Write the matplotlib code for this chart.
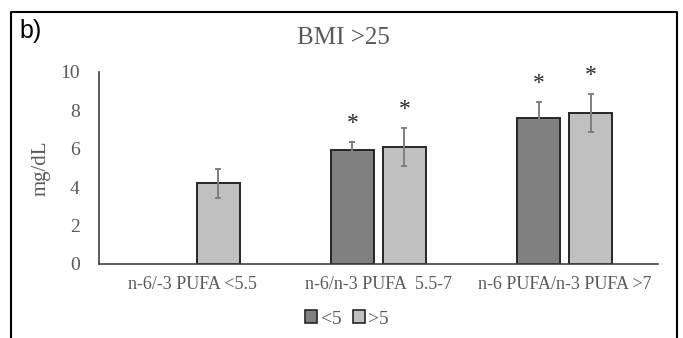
import matplotlib
matplotlib.use("Agg")
import matplotlib.pyplot as plt
import numpy as np
from matplotlib.lines import Line2D
from matplotlib.patches import Patch

categories = ["n-6/-3 PUFA <5.5", "n-6/n-3 PUFA  5.5-7", "n-6 PUFA/n-3 PUFA >7"]
series_names = ["<5", ">5"]
vals_lt5 = [np.nan, 5.92, 7.60]
err_lt5 = [np.nan, 0.43, 0.83]
vals_gt5 = [4.20, 6.08, 7.85]
err_gt5 = [0.77, 1.00, 1.00]
sig_lt5 = [False, True, True]
sig_gt5 = [False, True, True]
yticks = [0, 2, 4, 6, 8, 10]

serif = ["Liberation Serif", "DejaVu Serif"]
txt_col = "#595959"

fig = plt.figure(figsize=(6.83, 3.38), dpi=100)
ax = fig.add_axes([0.145, 0.219, 0.818, 0.568])

x = np.arange(len(categories))
w = 0.23
off = 0.14
cols = ["#808080", "#c0c0c0"]
for vals, errs, sigs, o, c, name in [
    (vals_lt5, err_lt5, sig_lt5, -off, cols[0], series_names[0]),
    (vals_gt5, err_gt5, sig_gt5, off, cols[1], series_names[1]),
]:
    v = np.array(vals, dtype=float)
    e = np.array(errs, dtype=float)
    mask = ~np.isnan(v)
    ax.bar(x[mask] + o, v[mask], width=w, color=c, edgecolor="#262626",
           linewidth=1.4, zorder=2, label=name)
    ax.errorbar(x[mask] + o, v[mask], yerr=e[mask], fmt="none",
                ecolor="#7f7f7f", elinewidth=1.4, capsize=2.5, capthick=1.4, zorder=3)
    for xi, vi, ei, si in zip(x + o, v, e, sigs):
        if si:
            ax.annotate("*", (xi, vi + ei), xytext=(0, 6), textcoords="offset points",
                        ha="center", va="bottom", fontsize=17, color="#262626",
                        family=serif)

ax.set_xlim(-0.5, 2.5)
ax.set_ylim(0, 10)
ax.set_yticks(yticks)
ax.set_yticklabels([str(t) for t in yticks], family=serif, fontsize=14, color=txt_col)
ax.set_xticks(x)
ax.set_xticklabels(categories, family=serif, fontsize=13, color=txt_col)
ax.tick_params(axis="x", length=0, pad=9)
ax.tick_params(axis="y", length=0, pad=14)
for s in ["top", "right"]:
    ax.spines[s].set_visible(False)
for s in ["left", "bottom"]:
    ax.spines[s].set_color("#404040")
    ax.spines[s].set_linewidth(1.2)

ax.set_ylabel("mg/dL", family=serif, fontsize=15, color=txt_col, labelpad=7)

fig.text(343 / 683, 1 - 38.5 / 338, "BMI >25", family=serif, fontsize=18, color=txt_col,
         ha="center", va="center")
fig.text(31 / 683, 1 - 31 / 338, "b)", family=["Liberation Sans", "DejaVu Sans"], fontsize=18,
         color="black", ha="center", va="center")

handles = [Patch(facecolor=cols[0], edgecolor="#262626", linewidth=1.2),
           Patch(facecolor=cols[1], edgecolor="#262626", linewidth=1.2)]
fig.legend(handles, series_names, loc="center", bbox_to_anchor=(347 / 683, 1 - 319 / 338),
           ncol=2, frameon=False, prop={"family": serif, "size": 14},
           handlelength=0.6, handleheight=0.6, handletextpad=0.2, columnspacing=0.6,
           labelcolor=txt_col)

frame = Line2D([11 / 683, 11 / 683, 677 / 683, 677 / 683],
               [0.0, 1 - 12 / 338, 1 - 12 / 338, 0.0],
               transform=fig.transFigure, color="black", linewidth=1.5)
fig.add_artist(frame)

fig.savefig("out.png", dpi=100)
